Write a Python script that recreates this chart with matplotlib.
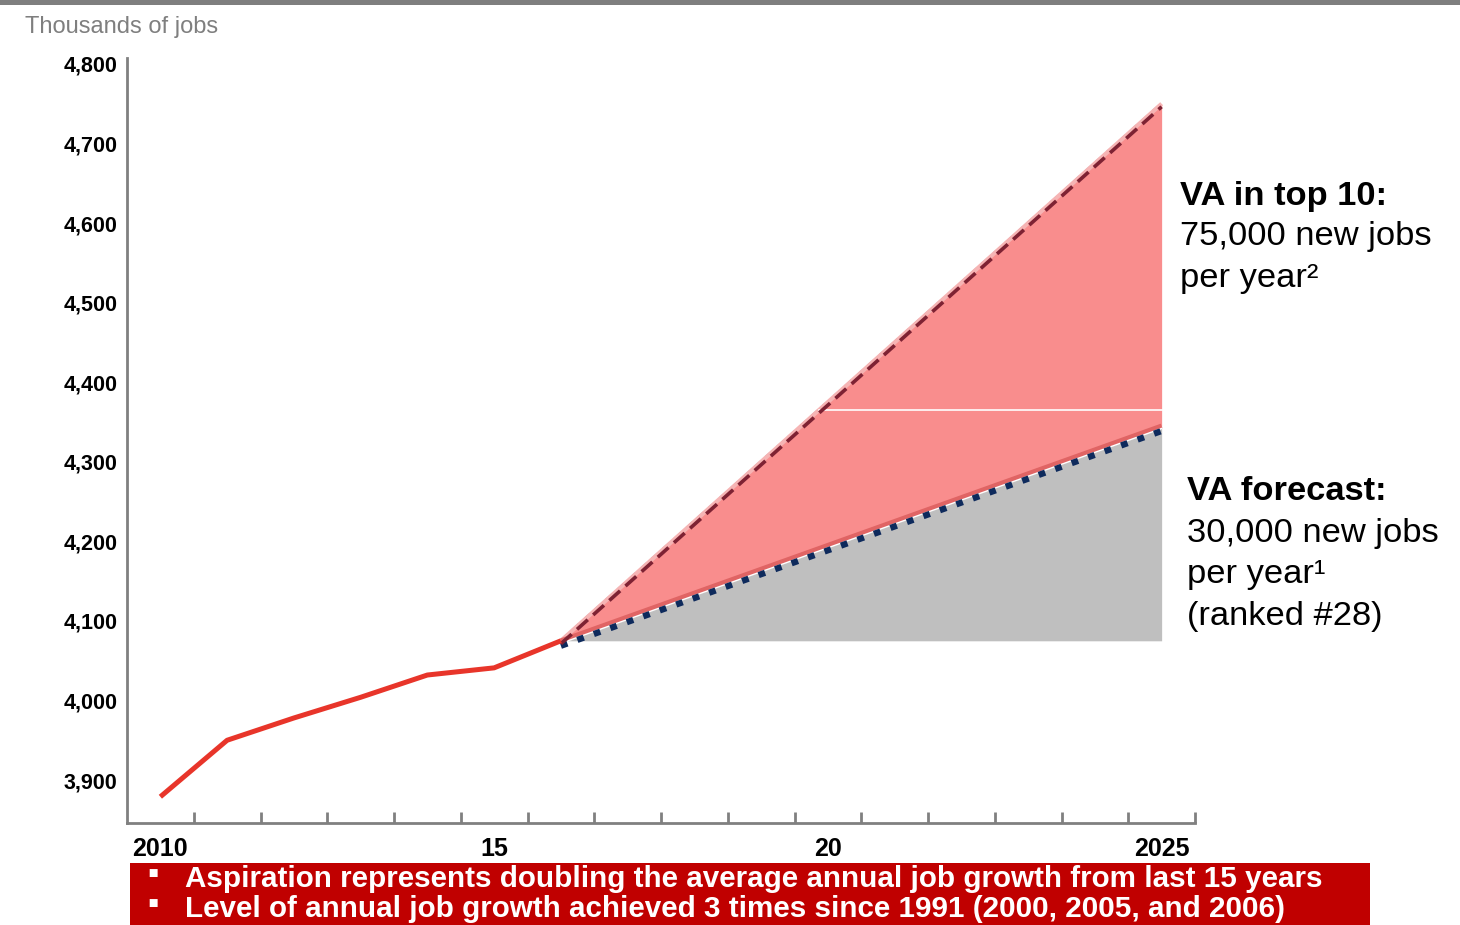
import matplotlib
matplotlib.use("Agg")
import matplotlib.pyplot as plt
import matplotlib.transforms as mtransforms
from matplotlib.patches import Rectangle
from matplotlib import font_manager as fm

# ---------------- data ----------------
hist_years = [2010, 2011, 2012, 2013, 2014, 2015, 2016]
hist_jobs = [3879, 3950, 3978, 4004, 4032, 4041, 4075]

proj_years = [2016, 2017, 2018, 2019, 2020, 2021, 2022, 2023, 2024, 2025]
forecast_jobs = [4075, 4105, 4135, 4165, 4195, 4225, 4255, 4285, 4315, 4345]
aspiration_jobs = [4075, 4150, 4225, 4300, 4375, 4450, 4525, 4600, 4675, 4750]
base_level = 4075
white_line_level = 4365

ytick_values = [3900, 4000, 4100, 4200, 4300, 4400, 4500, 4600, 4700, 4800]
ytick_labels = ["3,900", "4,000", "4,100", "4,200", "4,300", "4,400",
                "4,500", "4,600", "4,700", "4,800"]
xlabel_years = [2010, 2015, 2020, 2025]
xlabel_texts = ["2010", "15", "20", "2025"]
all_years = list(range(2010, 2026))

bullets = ["Aspiration represents doubling the average annual job growth from last 15 years",
           "Level of annual job growth achieved 3 times since 1991 (2000, 2005, and 2006)"]
top_label = ["VA in top 10:", "75,000 new jobs", "per year\u00b2"]
fc_label = ["VA forecast:", "30,000 new jobs", "per year\u00b9", "(ranked #28)"]

# ---------------- fonts ----------------
avail = {f.name for f in fm.fontManager.ttflist}
narrow = "Liberation Sans Narrow" if "Liberation Sans Narrow" in avail else "Liberation Sans"
plt.rcParams['font.family'] = ['Liberation Sans', 'DejaVu Sans']

# ---------------- colors ----------------
RED_LINE = "#E8352A"
PINK = "#F98D8D"
PINK_EDGE = "#F6B4B4"
GRAY = "#BFBFBF"
NAVY = "#0E2A5C"
DARKRED = "#7E2233"
BAND = "#E06464"
BOX = "#C00000"

W, H = 1460, 925
fig = plt.figure(figsize=(W / 100, H / 100), dpi=100)
ax = fig.add_axes([127 / W, (H - 823) / H, (1195 - 127) / W, (823 - 57.6) / H])

ax.set_xlim(2009.5, 2025.5)
ax.set_ylim(3846, 4808)

# gray area (forecast)
ax.fill_between(proj_years, [base_level] * len(proj_years), forecast_jobs,
                color=GRAY, lw=0, zorder=1)
# pink area (aspiration)
ax.fill_between(proj_years, forecast_jobs, aspiration_jobs,
                color=PINK, lw=0, zorder=1)
# lighter pink edge on top
ax.plot(proj_years, aspiration_jobs, color=PINK_EDGE, lw=3, zorder=1.5,
        solid_capstyle='butt')

# white horizontal line
x_cross = proj_years[0] + (white_line_level - aspiration_jobs[0]) / (
    (aspiration_jobs[-1] - aspiration_jobs[0]) / (proj_years[-1] - proj_years[0]))
ax.plot([x_cross, proj_years[-1]], [white_line_level, white_line_level],
        color="white", lw=1.2, zorder=2)

# darker red band along forecast boundary
ax.plot(proj_years, forecast_jobs, color=BAND, lw=3.5, zorder=2,
        solid_capstyle='butt')
ax.plot(proj_years, forecast_jobs, color="white", lw=1.0, zorder=2.1,
        transform=ax.transData + mtransforms.ScaledTranslation(0, -2.5 / 100, fig.dpi_scale_trans))

# navy dotted forecast line (slightly below)
off = mtransforms.ScaledTranslation(0, -5 / 100, fig.dpi_scale_trans)
ax.plot(proj_years, forecast_jobs, color=NAVY, lw=4.5,
        linestyle=(0, (1.1, 1.7)), zorder=3, transform=ax.transData + off)

# aspiration dashed line
ax.plot(proj_years, aspiration_jobs, color=NAVY, lw=2.2,
        linestyle=(0, (3, 2)), zorder=0.9)
ax.plot(proj_years, aspiration_jobs, color=DARKRED, lw=2.6,
        linestyle=(0, (4, 2)), zorder=3,
        transform=ax.transData + mtransforms.ScaledTranslation(0, -3 / 100, fig.dpi_scale_trans))

# historical red line
ax.plot(hist_years, hist_jobs, color=RED_LINE, lw=3.6, zorder=4,
        solid_capstyle='butt', solid_joinstyle='round')

# axes styling
for s in ["top", "right"]:
    ax.spines[s].set_visible(False)
for s in ["left", "bottom"]:
    ax.spines[s].set_color("#808080")
    ax.spines[s].set_linewidth(2)

ax.set_yticks(ytick_values)
ax.set_yticklabels(ytick_labels, fontfamily=narrow, fontweight='bold', fontsize=15.5)
ax.tick_params(axis='y', length=0, pad=7)

# ticks between categories (on x axis)
ax.set_xticks([y + 0.5 for y in all_years], minor=False)
ax.set_xticklabels([])
ax.tick_params(axis='x', direction='in', length=8, width=2, color="#808080")
for yr, txt in zip(xlabel_years, xlabel_texts):
    ax.text(yr, -0.018, txt, transform=ax.get_xaxis_transform(), ha='center', va='top',
            fontsize=18, fontweight='bold', fontfamily=narrow)

# y axis title
fig.text(25 / W, 1 - 27 / H, "Thousands of jobs", fontsize=17, color="#7F7F7F",
         ha='left', va='center')

# top gray bar
fig.add_artist(Rectangle((0, 1 - 5 / H), 1, 5 / H, transform=fig.transFigure,
                         color="#7F7F7F", lw=0))

# right annotations
for i, line in enumerate(top_label):
    fig.text(1180 / W, 1 - (196 + 41 * i) / H, line, fontsize=24.8,
             fontweight='bold' if i == 0 else 'normal', ha='left', va='center')
for i, line in enumerate(fc_label):
    fig.text(1187 / W, 1 - (492 + 41.5 * i) / H, line, fontsize=24.8,
             fontweight='bold' if i == 0 else 'normal', ha='left', va='center')

# bottom red box
fig.add_artist(Rectangle((130 / W, 0), (1370 - 130) / W, (925 - 863) / H,
                         transform=fig.transFigure, color=BOX, lw=0))
for i, line in enumerate(bullets):
    yb = 1 - (887 + 30 * i) / H
    fig.text(147 / W, yb + 4 / H, "\u25aa", color="white", fontsize=23, ha='left',
             va='baseline', fontweight='bold')
    fig.text(185 / W, yb, line, color="white", fontsize=21.3, ha='left', va='baseline',
             fontweight='bold')

fig.savefig("out.png", dpi=100)
